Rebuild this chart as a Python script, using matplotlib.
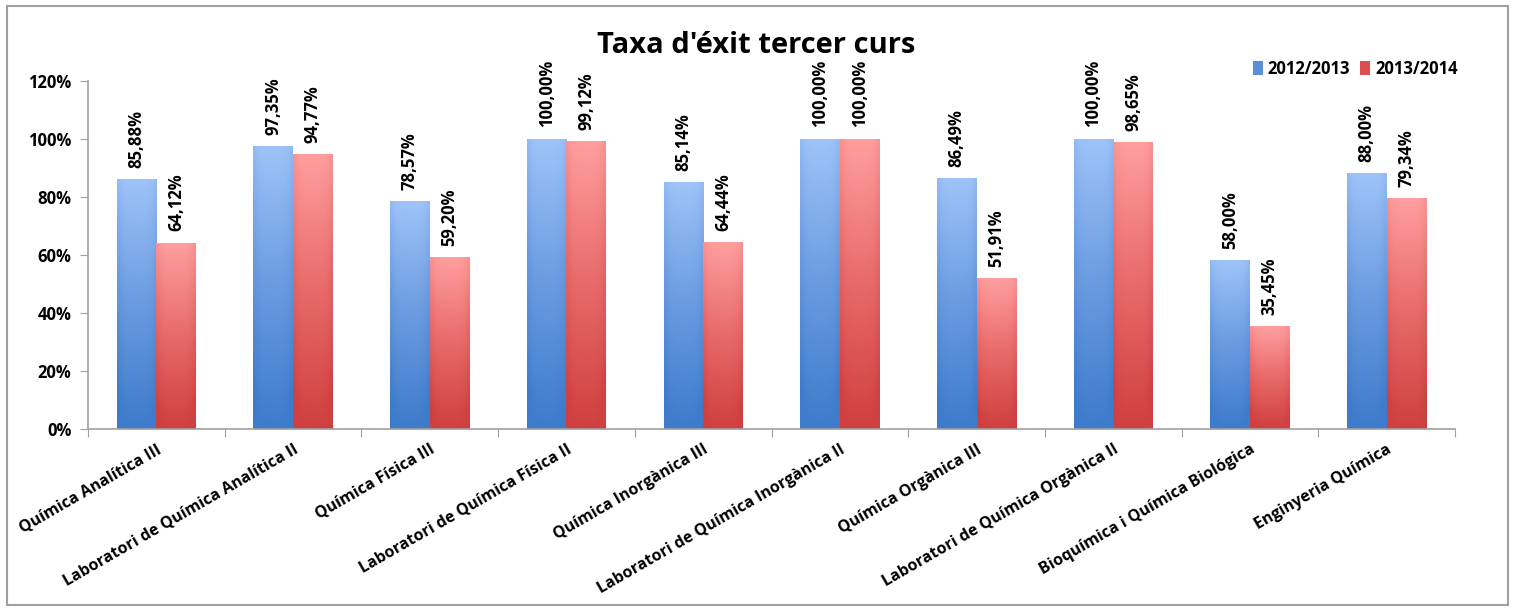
import numpy as np
import matplotlib.pyplot as plt
from matplotlib.patches import Rectangle, Patch
from matplotlib.colors import LinearSegmentedColormap

categories = ['Química Analítica III', 'Laboratori de Química Analítica II', 'Química Física III',
              'Laboratori de Química Física II', 'Química Inorgànica III',
              'Laboratori de Química Inorgànica II', 'Química Orgànica III',
              'Laboratori de Química Orgànica II', 'Bioquímica i Química Biológica',
              'Enginyeria Química']
years = ['2012/2013', '2013/2014']
v2012 = [85.88, 97.35, 78.57, 100.00, 85.14, 100.00, 86.49, 100.00, 58.00, 88.00]
v2013 = [64.12, 94.77, 59.20, 99.12, 64.44, 100.00, 51.91, 98.65, 35.45, 79.34]

plt.rcParams['font.family'] = ['Open Sans', 'DejaVu Sans']
plt.rcParams['font.weight'] = 'bold'

fig = plt.figure(figsize=(15.21, 6.11), dpi=100)
ax = fig.add_axes([0.0579, 0.2979, 0.8987, 0.5695])

# outer chart border
fig.patches.append(Rectangle((0.0045, 0.01), 0.987, 0.98, transform=fig.transFigure,
                             fill=False, edgecolor='#A0A0A0', linewidth=1.5))

blue_cmap = LinearSegmentedColormap.from_list('b', ['#3E7BCB', '#6A9BE0', '#9EC3F8'])
red_cmap = LinearSegmentedColormap.from_list('r', ['#D04040', '#E86A6A', '#FF9E9E'])

x = np.arange(len(categories))
w = 0.29

def grad_bar(xc, h, cmap):
    # vertical gradient, light at top, with slight edge shading
    ny, nx = 64, 16
    vert = np.linspace(0, 1, ny)[:, None]
    horiz = np.linspace(-1, 1, nx)[None, :]
    img = vert * np.ones((1, nx)) - 0.12 * horiz ** 4
    ax.imshow(img, cmap=cmap, vmin=0, vmax=1, origin='lower', aspect='auto',
              extent=(xc - w / 2, xc + w / 2, 0, h / 100), zorder=2, interpolation='bilinear')

for i in range(len(categories)):
    grad_bar(x[i] - w / 2, v2012[i], blue_cmap)
    grad_bar(x[i] + w / 2, v2013[i], red_cmap)
    for xc, v in [(x[i] - w / 2, v2012[i]), (x[i] + w / 2, v2013[i])]:
        lab = f'{v:.2f}'.replace('.', ',') + '%'
        ax.text(xc, v / 100 + 0.04, lab, rotation=90, ha='center', va='bottom',
                fontsize=12, fontweight='bold', zorder=3)

ax.set_xlim(-0.5, len(categories) - 0.5)
ax.set_ylim(0, 1.2)
ax.set_yticks(np.arange(0, 1.21, 0.2))
ax.set_yticklabels([f'{int(round(t * 100))}%' for t in np.arange(0, 1.21, 0.2)],
                   fontsize=12, fontweight='bold')
ax.set_xticks(np.arange(-0.5, len(categories), 1))
ax.set_xticklabels([])
ax.set_xticks(x, minor=True)
ax.set_xticklabels(categories, minor=True, rotation=30, ha='right', rotation_mode='anchor',
                   fontsize=11.5, fontweight='bold')
ax.tick_params(axis='x', which='minor', length=0, pad=9)
ax.tick_params(axis='x', which='major', length=6, color='#A0A0A0', direction='out')
ax.tick_params(axis='y', length=6, color='#A0A0A0', direction='out', pad=6)
for s in ['top', 'right']:
    ax.spines[s].set_visible(False)
for s in ['left', 'bottom']:
    ax.spines[s].set_color('#A0A0A0')
    ax.spines[s].set_linewidth(1.2)

fig.text(0.497, 0.925, "Taxa d'éxit tercer curs", ha='center', va='center',
         fontsize=21, fontweight='bold')

handles = [Patch(facecolor='#5B8ED8', label=years[0]), Patch(facecolor='#D95050', label=years[1])]
fig.legend(handles=handles, loc='center', bbox_to_anchor=(0.891, 0.887), ncol=2, frameon=False,
           handlelength=0.6, handleheight=0.9, handletextpad=0.3, columnspacing=0.6,
           prop={'weight': 'bold', 'size': 12})

fig.savefig('out.png', dpi=100)
